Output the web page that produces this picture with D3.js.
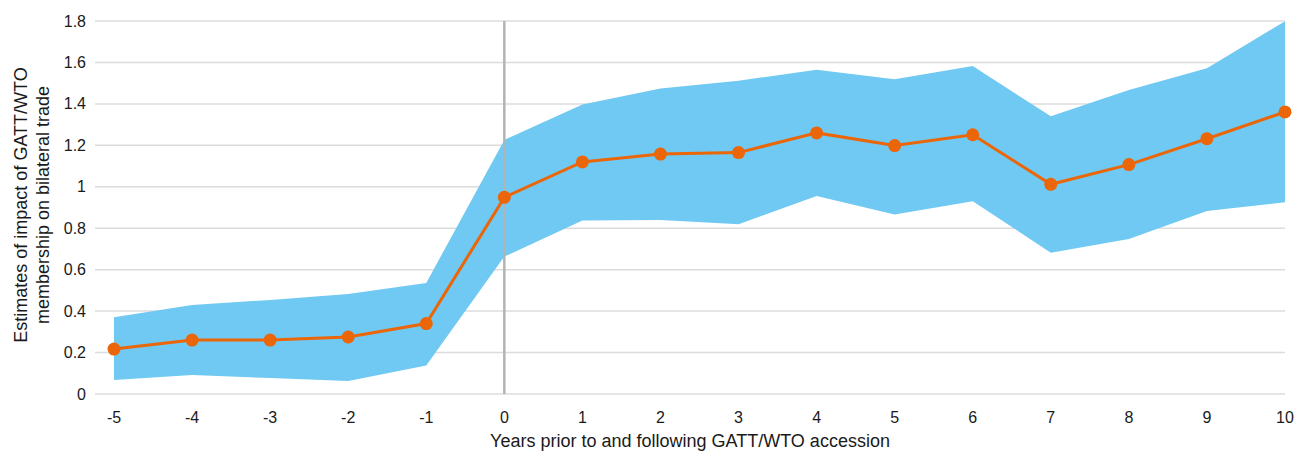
<!DOCTYPE html>
<html>
<head>
<meta charset="utf-8">
<script src="https://cdn.jsdelivr.net/npm/d3@7"></script>
<style>
  html, body { margin: 0; padding: 0; background: #fff; }
  svg { display: block; }
  text { font-family: "Liberation Sans", Arial, Helvetica, sans-serif; fill: #1a1a1a; }
</style>
</head>
<body>
<svg id="chart" width="1308" height="453"></svg>
<script>
const years = [-5, -4, -3, -2, -1, 0, 1, 2, 3, 4, 5, 6, 7, 8, 9, 10];
const estimate = [0.217, 0.26, 0.26, 0.275, 0.34, 0.949, 1.12, 1.158, 1.165, 1.26, 1.199, 1.251, 1.012, 1.107, 1.232, 1.361];
const upper = [0.37, 0.43, 0.454, 0.483, 0.536, 1.226, 1.397, 1.474, 1.512, 1.565, 1.519, 1.583, 1.34, 1.467, 1.572, 1.799];
const lower = [0.067, 0.092, 0.077, 0.063, 0.137, 0.663, 0.837, 0.84, 0.819, 0.956, 0.866, 0.93, 0.682, 0.748, 0.883, 0.925];
const yTicks = [0, 0.2, 0.4, 0.6, 0.8, 1, 1.2, 1.4, 1.6, 1.8];
const yTitleLines = ["Estimates of impact of GATT/WTO", "membership on bilateral trade"];
const xTitle = "Years prior to and following GATT/WTO accession";

const svg = d3.select("#chart");
const gridLeft = 95, gridRight = 1285;
const x = d3.scaleLinear().domain([-5, 10]).range([114, 1285]);
const y = d3.scaleLinear().domain([0, 1.8]).range([394, 21]);

// gridlines
svg.append("g").selectAll("line").data(yTicks).join("line")
  .attr("x1", gridLeft).attr("x2", gridRight)
  .attr("y1", d => y(d)).attr("y2", d => y(d))
  .attr("stroke", "#dcdcdc").attr("stroke-width", 1.5);

// y tick labels
svg.append("g").selectAll("text").data(yTicks).join("text")
  .attr("x", 86).attr("y", d => y(d)).attr("dy", "0.35em")
  .attr("text-anchor", "end").attr("font-size", 16)
  .text(d => d3.format("~g")(d));

// x tick labels
svg.append("g").selectAll("text").data(years).join("text")
  .attr("x", d => x(d)).attr("y", 423)
  .attr("text-anchor", "middle").attr("font-size", 16)
  .text(d => d);

// band
const data = years.map((d, i) => ({ yr: d, est: estimate[i], lo: lower[i], hi: upper[i] }));
svg.append("path").datum(data)
  .attr("fill", "#70c9f2")
  .attr("d", d3.area().x(d => x(d.yr)).y0(d => y(d.lo)).y1(d => y(d.hi)));

// vertical line at accession
svg.append("line")
  .attr("x1", x(0)).attr("x2", x(0)).attr("y1", y(1.8)).attr("y2", y(0))
  .attr("stroke", "#b3b3b3").attr("stroke-width", 2.5);

// estimate line
svg.append("path").datum(data)
  .attr("fill", "none").attr("stroke", "#eb6608").attr("stroke-width", 3)
  .attr("d", d3.line().x(d => x(d.yr)).y(d => y(d.est)));

svg.append("g").selectAll("circle").data(data).join("circle")
  .attr("cx", d => x(d.yr)).attr("cy", d => y(d.est)).attr("r", 6.5)
  .attr("fill", "#eb6608");

// axis titles
const yt = svg.append("text").attr("transform", "translate(27,205) rotate(-90)")
  .attr("text-anchor", "middle").attr("font-size", 18);
yTitleLines.forEach((t, i) => {
  yt.append("tspan").attr("x", 0).attr("dy", i === 0 ? 0 : 22).text(t);
});

svg.append("text").attr("x", (gridLeft + gridRight) / 2).attr("y", 447)
  .attr("text-anchor", "middle").attr("font-size", 18).text(xTitle);
</script>
</body>
</html>
